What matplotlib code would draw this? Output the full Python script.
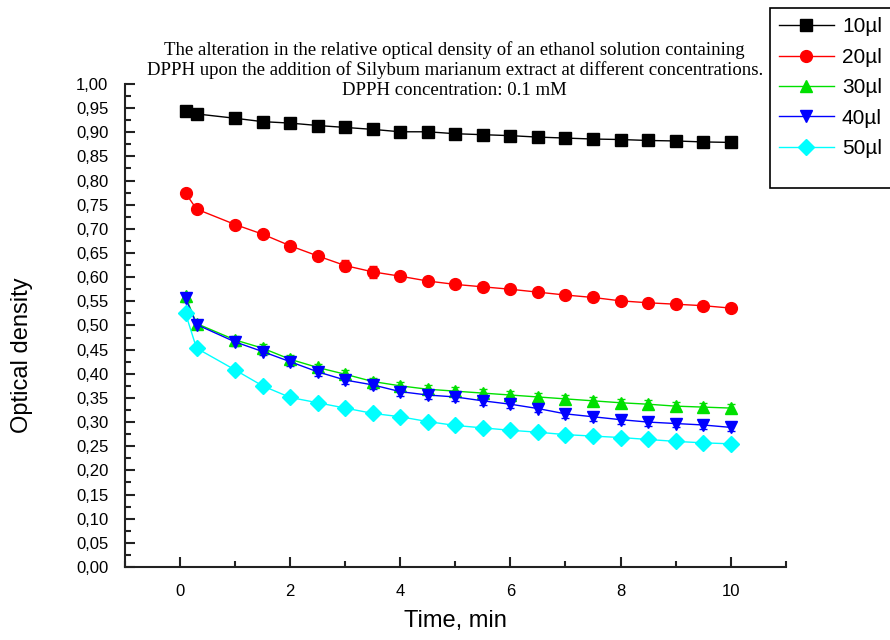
import matplotlib
matplotlib.use("Agg")
import matplotlib.pyplot as plt
from matplotlib.ticker import MultipleLocator, FuncFormatter
from matplotlib.lines import Line2D
from matplotlib.patches import Rectangle

# time points, min
time = [0.1, 0.3, 1, 1.5, 2, 2.5, 3, 3.5, 4, 4.5, 5, 5.5, 6, 6.5, 7, 7.5, 8, 8.5, 9, 9.5, 10]

od_10 = [0.945, 0.938, 0.929, 0.922, 0.919, 0.914, 0.910, 0.906, 0.901, 0.901, 0.897,
         0.895, 0.893, 0.890, 0.888, 0.886, 0.885, 0.883, 0.882, 0.880, 0.879]
od_20 = [0.774, 0.741, 0.709, 0.689, 0.665, 0.644, 0.624, 0.611, 0.602, 0.592, 0.585,
         0.580, 0.575, 0.569, 0.563, 0.558, 0.551, 0.547, 0.544, 0.541, 0.536]
od_30 = [0.560, 0.504, 0.470, 0.453, 0.430, 0.413, 0.399, 0.384, 0.375, 0.368, 0.364,
         0.360, 0.356, 0.352, 0.348, 0.344, 0.340, 0.337, 0.333, 0.331, 0.329]
od_40 = [0.556, 0.502, 0.466, 0.446, 0.425, 0.404, 0.387, 0.377, 0.363, 0.356, 0.352,
         0.344, 0.337, 0.328, 0.317, 0.311, 0.305, 0.300, 0.297, 0.294, 0.289]
od_50 = [0.525, 0.453, 0.408, 0.375, 0.351, 0.340, 0.329, 0.318, 0.311, 0.301, 0.293,
         0.288, 0.283, 0.279, 0.274, 0.271, 0.268, 0.264, 0.260, 0.257, 0.255]

err_10 = [0.004] * 21
err_20 = [0.005, 0.005, 0.005, 0.005, 0.005, 0.006, 0.012, 0.012, 0.006, 0.006, 0.005,
          0.005, 0.005, 0.005, 0.005, 0.005, 0.005, 0.005, 0.005, 0.005, 0.005]
err_30 = [0.008] * 21
err_40 = [0.008] * 21
err_50 = [0.004] * 21

labels = ["10µl", "20µl", "30µl", "40µl", "50µl"]
series = [od_10, od_20, od_30, od_40, od_50]
errors = [err_10, err_20, err_30, err_40, err_50]
colors = ["black", "#ff0000", "#00e000", "#0000ff", "#00ffff"]
markers = ["s", "o", "^", "v", "D"]
msizes = [8, 8.5, 8.5, 8.5, 8]

plt.rcParams["font.family"] = ["Liberation Sans", "DejaVu Sans"]

fig = plt.figure(figsize=(8.9, 6.4), dpi=100)
ax = fig.add_axes([0.1404, 0.1141, 0.7424, 0.7547])

for y, e, c, m, ms, lab in zip(series, errors, colors, markers, msizes, labels):
    ax.errorbar(time, y, yerr=e, color=c, marker=m, markersize=ms, linewidth=1,
                elinewidth=1, capsize=3, label=lab, zorder=3)

ax.set_xlim(-1, 11)
ax.set_ylim(0, 1.0)
ax.xaxis.set_major_locator(MultipleLocator(2))
ax.xaxis.set_minor_locator(MultipleLocator(1))
ax.yaxis.set_major_locator(MultipleLocator(0.05))
ax.yaxis.set_minor_locator(MultipleLocator(0.025))
ax.yaxis.set_major_formatter(FuncFormatter(lambda v, p: f"{v:.2f}".replace(".", ",")))

for s in ["top", "right"]:
    ax.spines[s].set_visible(False)
for s in ["left", "bottom"]:
    ax.spines[s].set_linewidth(1.5)
    ax.spines[s].set_color("#222222")

ax.tick_params(which="major", direction="in", length=7, width=1.5, labelsize=12,
               color="#222222", pad=12)
ax.tick_params(which="minor", direction="in", length=4, width=1.5, color="#222222")

ax.set_xlabel("Time, min", fontsize=17)
ax.set_ylabel("Optical density", fontsize=17)
ax.xaxis.set_label_coords(0.5, -0.09)
ax.yaxis.set_label_coords(-0.139, 0.439)

fig.text(0.511, 0.8906,
         "The alteration in the relative optical density of an ethanol solution containing\n"
         "DPPH upon the addition of Silybum marianum extract at different concentrations.\n"
         "DPPH concentration: 0.1 mM",
         ha="center", va="center", fontsize=13.5, family="Liberation Serif",
         linespacing=1.22)

# legend box runs off the right edge of the figure, as in the original
box = Rectangle((770 / 890, 1 - 188 / 640), 0.3, 180 / 640, transform=fig.transFigure,
                facecolor="white", edgecolor="black", linewidth=1.2, zorder=1)
fig.patches.append(box)

handles = [Line2D([], [], color=c, marker=m, markersize=ms, linewidth=1)
           for c, m, ms in zip(colors, markers, msizes)]
leg = fig.legend(handles, labels, loc="upper left",
                 bbox_to_anchor=(770 / 890, 1 - 8 / 640), fontsize=15,
                 handlelength=2.6, handletextpad=0.4, labelspacing=0.55,
                 borderpad=0.45, borderaxespad=0, frameon=False)
leg.set_zorder(2)

fig.savefig("out.png", dpi=100)
